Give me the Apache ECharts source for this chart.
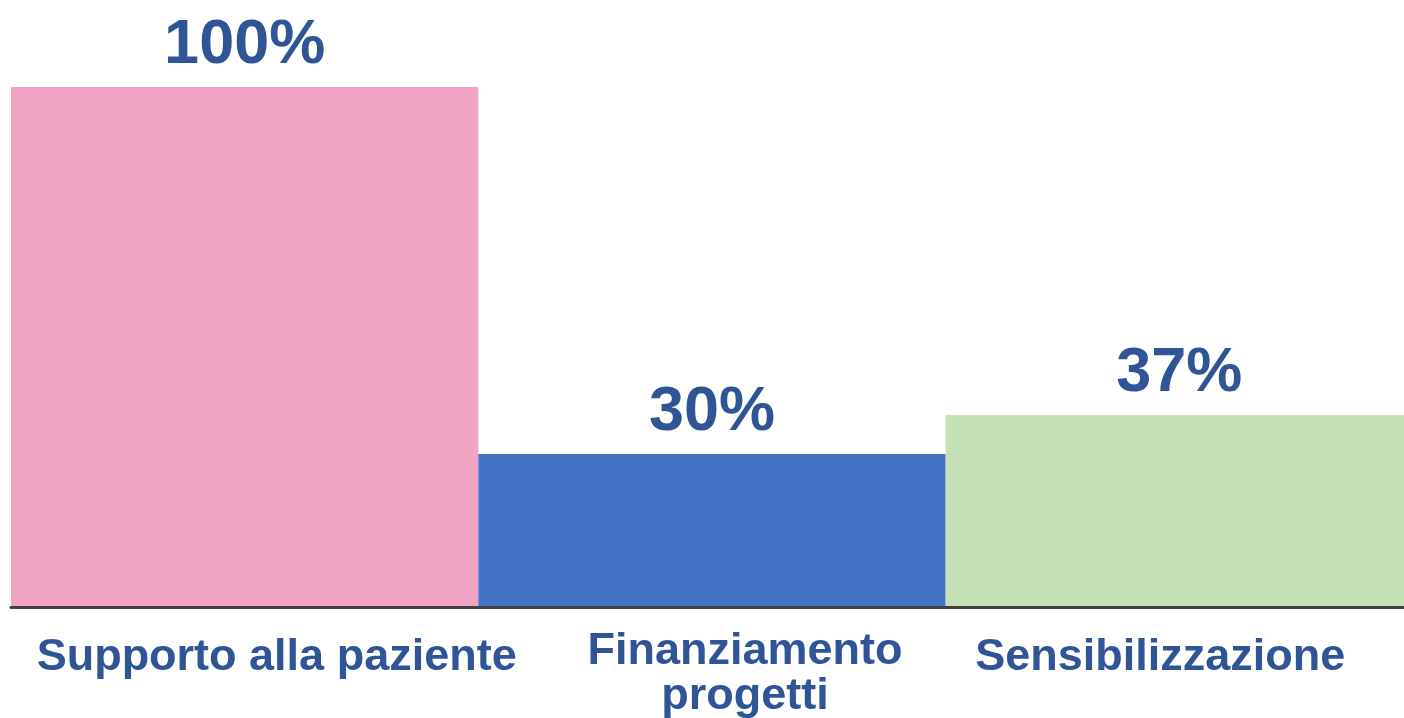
<!DOCTYPE html>
<html>
<head>
<meta charset="utf-8">
<script src="https://cdn.jsdelivr.net/npm/echarts@6/dist/echarts.min.js"></script>
<style>
  html, body { margin: 0; padding: 0; background: #ffffff; }
  #chart { width: 1404px; height: 718px; }
</style>
</head>
<body>
<div id="chart"></div>
<script>
const categories = ["Supporto alla paziente", "Finanziamento\nprogetti", "Sensibilizzazione"]
const values = [100, 29.4, 36.9]
const valueLabels = ["100%", "30%", "37%"]
const barColors = ["#F0A2C2", "#4472C4", "#C5E0B4"]

// small per-label nudges so the texts sit where the original slide put them
const labelStyles = [
  { lineHeight: 57, padding: [0, 0, 0, 64] },
  { lineHeight: 45, padding: [0, 0, 0, 66] },
  { lineHeight: 57, padding: [0, 38, 0, 0] },
]

const chart = echarts.init(document.getElementById("chart"))

const option = {
  backgroundColor: "#ffffff",
  animation: false,
  grid: {
    left: 11,
    right: -9,
    top: 87,
    bottom: 111,
    containLabel: false,
    outerBoundsMode: "none",
  },
  xAxis: {
    type: "category",
    data: categories.map((c, i) => ({ value: c, textStyle: labelStyles[i] })),
    z: 10,
    axisLine: {
      lineStyle: {
        color: "#404040",
        width: 3,
      },
    },
    axisTick: { show: false },
    axisLabel: {
      interval: 0,
      margin: 22,
      color: "#2F5597",
      fontFamily: "Liberation Sans",
      fontWeight: "bold",
      fontSize: 45,
    },
  },
  yAxis: {
    type: "value",
    min: 0,
    max: 100,
    show: false,
  },
  series: [
    {
      type: "bar",
      barCategoryGap: 0,
      data: values.map((v, i) => ({ value: v, itemStyle: { color: barColors[i] } })),
      label: {
        show: true,
        position: "top",
        distance: 10,
        color: "#2F5597",
        fontFamily: "Liberation Sans",
        fontWeight: "bold",
        fontSize: 63,
        formatter: (p) => valueLabels[p.dataIndex],
      },
    },
  ],
}

chart.setOption(option)

window.addEventListener("resize", () => chart.resize())
</script>
</body>
</html>
